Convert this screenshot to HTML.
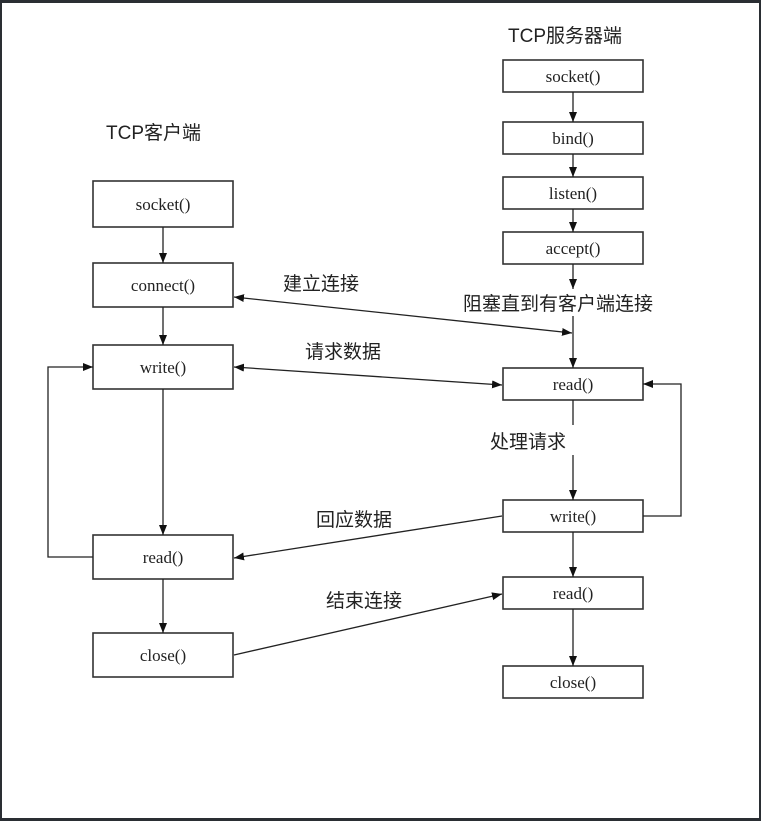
<!DOCTYPE html>
<html><head><meta charset="utf-8"><style>
html,body{margin:0;padding:0;background:#fff;}
svg{display:block;}
.b{fill:#fff;stroke:#333;stroke-width:1.6;}
.t{font-family:"Liberation Serif","Noto Serif CJK SC",serif;font-size:17px;fill:#222;text-anchor:middle;}
.c{font-family:"Liberation Sans","Noto Sans CJK SC",sans-serif;font-size:19px;fill:#222;}
.l{stroke:#222;stroke-width:1.3;fill:none;}
</style></head><body>
<svg width="761" height="821" viewBox="0 0 761 821" xmlns="http://www.w3.org/2000/svg">
<defs>
<marker id="a" viewBox="0 0 10 10" refX="10" refY="5" markerWidth="10" markerHeight="10" markerUnits="userSpaceOnUse" orient="auto-start-reverse"><path d="M0,1 L10,5 L0,9 z" fill="#111"/></marker>
</defs>
<rect x="0" y="0" width="761" height="821" fill="#fff"/>
<rect x="0" y="0" width="761" height="3" fill="#2a2e33"/>
<rect x="0" y="818" width="761" height="3" fill="#2a2e33"/>
<rect x="0" y="0" width="2" height="821" fill="#2a2e33"/>
<rect x="759" y="0" width="2" height="821" fill="#2a2e33"/>

<text class="c" x="106" y="139">TCP客户端</text>
<text class="c" x="508" y="42">TCP服务器端</text>

<rect class="b" x="93" y="181" width="140" height="46"/><text class="t" x="163" y="210">socket()</text>
<rect class="b" x="93" y="263" width="140" height="44"/><text class="t" x="163" y="291">connect()</text>
<rect class="b" x="93" y="345" width="140" height="44"/><text class="t" x="163" y="373">write()</text>
<rect class="b" x="93" y="535" width="140" height="44"/><text class="t" x="163" y="563">read()</text>
<rect class="b" x="93" y="633" width="140" height="44"/><text class="t" x="163" y="661">close()</text>

<rect class="b" x="503" y="60" width="140" height="32"/><text class="t" x="573" y="82">socket()</text>
<rect class="b" x="503" y="122" width="140" height="32"/><text class="t" x="573" y="144">bind()</text>
<rect class="b" x="503" y="177" width="140" height="32"/><text class="t" x="573" y="199">listen()</text>
<rect class="b" x="503" y="232" width="140" height="32"/><text class="t" x="573" y="254">accept()</text>
<rect class="b" x="503" y="368" width="140" height="32"/><text class="t" x="573" y="390">read()</text>
<rect class="b" x="503" y="500" width="140" height="32"/><text class="t" x="573" y="522">write()</text>
<rect class="b" x="503" y="577" width="140" height="32"/><text class="t" x="573" y="599">read()</text>
<rect class="b" x="503" y="666" width="140" height="32"/><text class="t" x="573" y="688">close()</text>

<line class="l" x1="163" y1="227" x2="163" y2="263" marker-end="url(#a)"/>
<line class="l" x1="163" y1="307" x2="163" y2="345" marker-end="url(#a)"/>
<line class="l" x1="163" y1="389" x2="163" y2="535" marker-end="url(#a)"/>
<line class="l" x1="163" y1="579" x2="163" y2="633" marker-end="url(#a)"/>
<polyline class="l" points="93,557 48,557 48,367 93,367" marker-end="url(#a)"/>

<line class="l" x1="573" y1="92" x2="573" y2="122" marker-end="url(#a)"/>
<line class="l" x1="573" y1="154" x2="573" y2="177" marker-end="url(#a)"/>
<line class="l" x1="573" y1="209" x2="573" y2="232" marker-end="url(#a)"/>
<line class="l" x1="573" y1="264" x2="573" y2="289" marker-end="url(#a)"/>
<line class="l" x1="573" y1="316" x2="573" y2="368" marker-end="url(#a)"/>
<line class="l" x1="573" y1="400" x2="573" y2="425"/>
<line class="l" x1="573" y1="455" x2="573" y2="500" marker-end="url(#a)"/>
<line class="l" x1="573" y1="532" x2="573" y2="577" marker-end="url(#a)"/>
<line class="l" x1="573" y1="609" x2="573" y2="666" marker-end="url(#a)"/>
<polyline class="l" points="643,516 681,516 681,384 643,384" marker-end="url(#a)"/>

<line class="l" x1="234" y1="297" x2="572" y2="333" marker-start="url(#a)" marker-end="url(#a)"/>
<line class="l" x1="234" y1="367" x2="502" y2="385" marker-start="url(#a)" marker-end="url(#a)"/>
<line class="l" x1="502" y1="516" x2="234" y2="558" marker-end="url(#a)"/>
<line class="l" x1="234" y1="655" x2="502" y2="594" marker-end="url(#a)"/>

<text class="c" x="283" y="290">建立连接</text>
<text class="c" x="463" y="310">阻塞直到有客户端连接</text>
<text class="c" x="305" y="358">请求数据</text>
<text class="c" x="490" y="448">处理请求</text>
<text class="c" x="316" y="526">回应数据</text>
<text class="c" x="326" y="607">结束连接</text>
</svg>
</body></html>
